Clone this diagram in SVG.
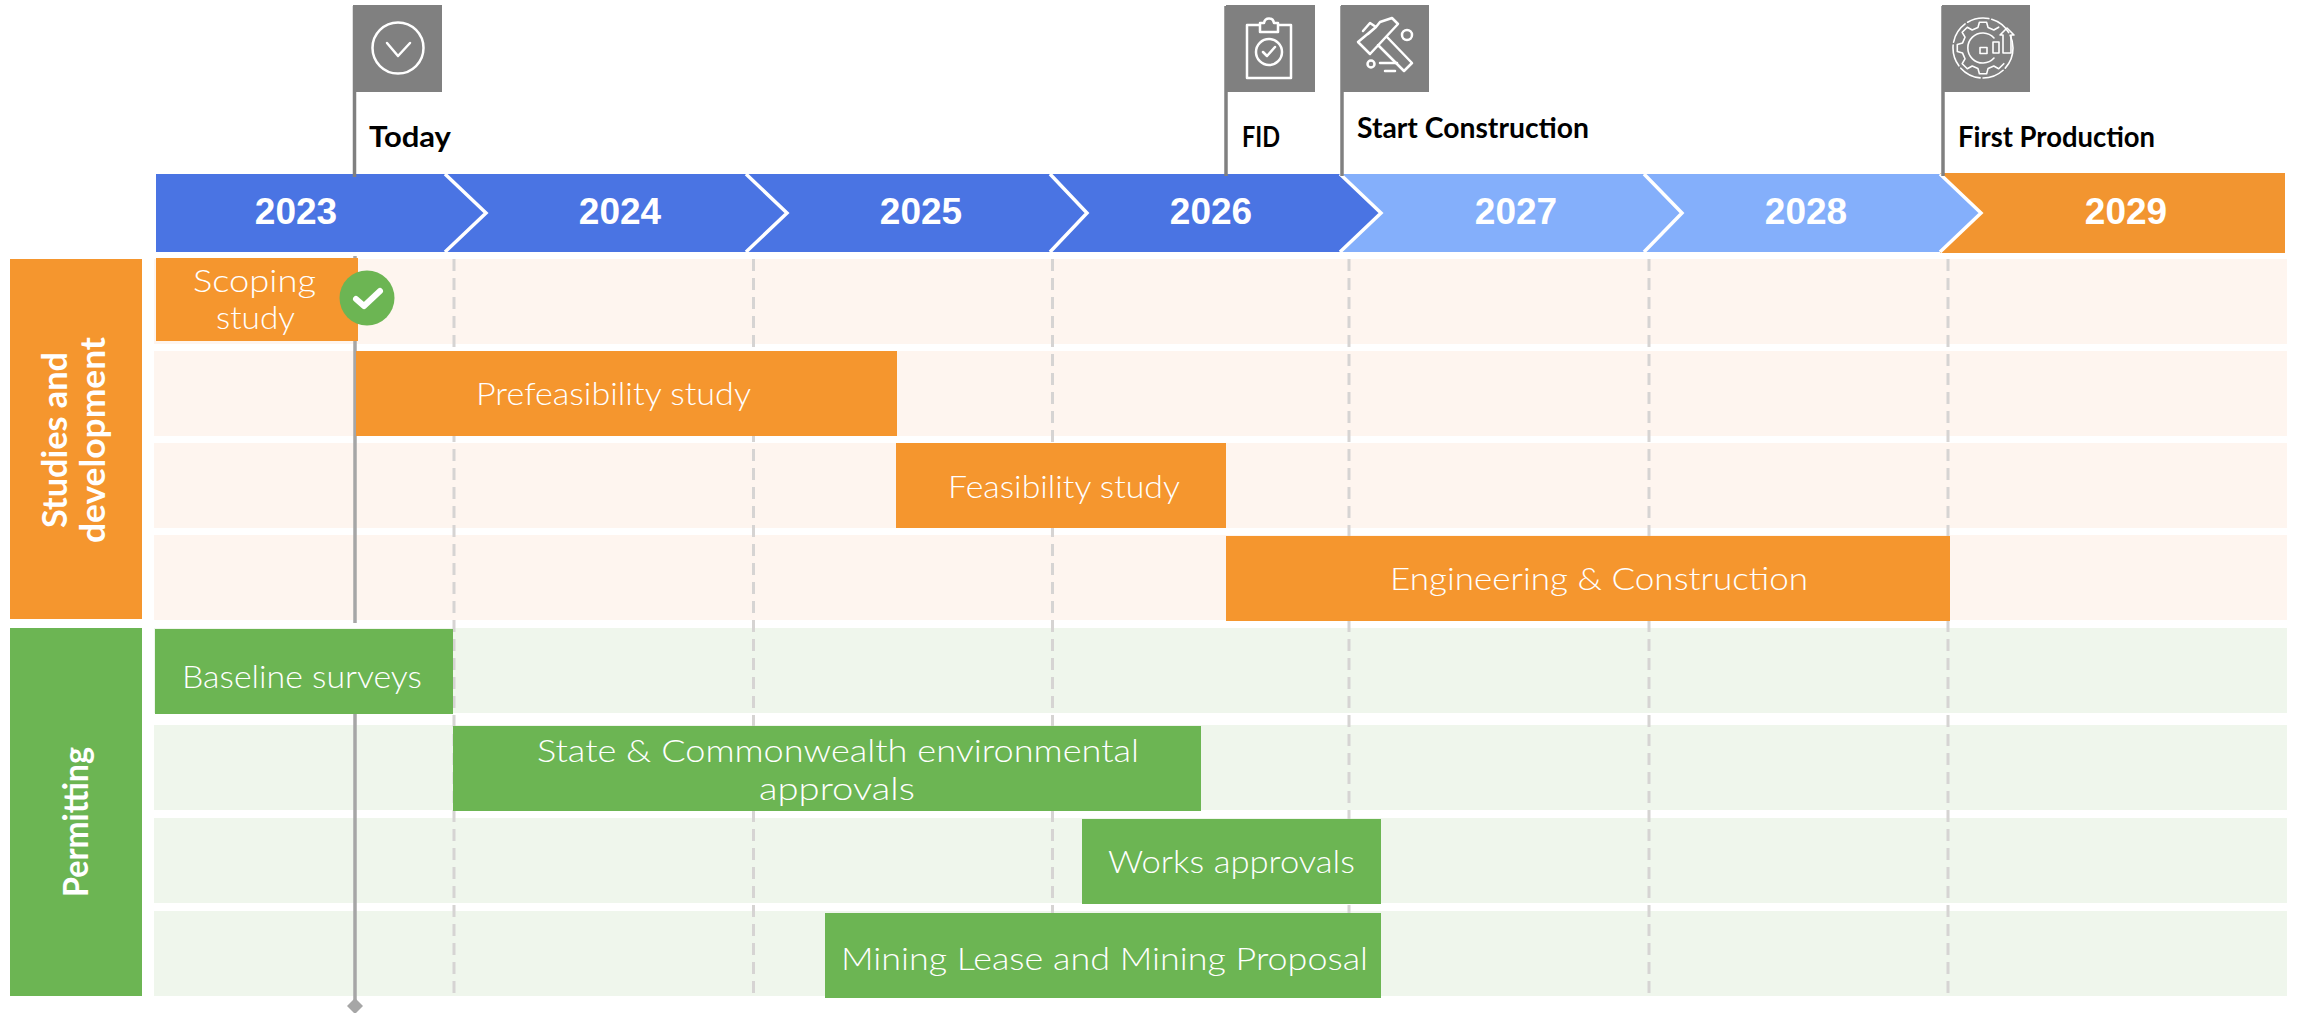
<svg xmlns="http://www.w3.org/2000/svg" width="2299" height="1013" viewBox="0 0 2299 1013">
<style>
.ro{fill:#FEF5EF}.rg{fill:#EFF6EC}
.o{fill:#F5962E}.g{fill:#6CB553}
.dash{stroke:#D6D4D3;stroke-width:3;stroke-dasharray:12 7;fill:none}
.tl{stroke:#A6A6A6;stroke-width:3.5;fill:none}
.pole{stroke:#808080;stroke-width:3.5;fill:none}
.flag{fill:#808080}
.ic{fill:none;stroke:#fff;stroke-width:2.5;stroke-linejoin:round;stroke-linecap:round}
.ic2{fill:none;stroke:#fff;stroke-width:1.6;stroke-linejoin:round;stroke-linecap:round}
.edge{fill:none;stroke:#fff;stroke-width:3.5}
.yr{font:bold 37px "Liberation Sans",Arial,sans-serif;fill:#fff;text-anchor:middle}
.ms{font:bold 28px Lato,"Liberation Sans",sans-serif;fill:#000}
.bar{font:300 32px Lato,"Open Sans",sans-serif;fill:#fff}
.side{font:bold 34px Lato,"Liberation Sans",sans-serif;fill:#fff}
</style>
<g id="rows">
<rect class="ro" x="154" y="259" width="2133" height="85"/>
<rect class="ro" x="154" y="351" width="2133" height="85"/>
<rect class="ro" x="154" y="443" width="2133" height="85"/>
<rect class="ro" x="154" y="535" width="2133" height="85"/>
<rect class="rg" x="154" y="628" width="2133" height="85"/>
<rect class="rg" x="154" y="725" width="2133" height="85"/>
<rect class="rg" x="154" y="818" width="2133" height="85"/>
<rect class="rg" x="154" y="911" width="2133" height="85"/>
</g>
<g id="connectors">
<path class="dash" d="M454 259V998M753.500 259V998M1052.500 259V998M1349 259V998M1649 259V998M1948 259V998"/>
<path class="tl" d="M355 256V623M355 714V1000"/>
<path d="M355 998l8 8-8 8-8-8z" fill="#A6A6A6"/>
</g>
<g id="timeline">
<rect x="1940" y="173" width="345" height="80" fill="#F29530"/>
<path fill="#84AFFB" d="M1640 174H1940L1981 213L1940 252H1640Z"/>
<path class="edge" d="M1940 174L1981 213L1940 252"/>
<path fill="#84AFFB" d="M1340 174H1644L1682 213L1644 252H1340Z"/>
<path class="edge" d="M1644 174L1682 213L1644 252"/>
<path fill="#4A74E3" d="M1050 174H1340L1381 213L1340 252H1050Z"/>
<path class="edge" d="M1340 174L1381 213L1340 252"/>
<path fill="#4A74E3" d="M746 174H1050L1087 213L1050 252H746Z"/>
<path class="edge" d="M1050 174L1087 213L1050 252"/>
<path fill="#4A74E3" d="M445 174H746L787 213L746 252H445Z"/>
<path class="edge" d="M746 174L787 213L746 252"/>
<path fill="#4A74E3" d="M156 174H445L486 213L445 252H156Z"/>
<path class="edge" d="M445 174L486 213L445 252"/>
<text class="yr" x="296" y="224">2023</text>
<text class="yr" x="620" y="224">2024</text>
<text class="yr" x="921" y="224">2025</text>
<text class="yr" x="1211" y="224">2026</text>
<text class="yr" x="1516" y="224">2027</text>
<text class="yr" x="1806" y="224">2028</text>
<text class="yr" x="2126" y="224">2029</text>
</g>
<g id="milestone-today">
<path class="pole" d="M354.500 6V177"/>
<rect class="flag" x="353" y="5" width="89" height="87"/>
<circle class="ic" cx="398" cy="48" r="25.500"/>
<path class="ic" stroke-width="3" d="M387 43L398 56L410 43"/>
<text class="ms" x="369" y="147" textLength="82" lengthAdjust="spacingAndGlyphs">Today</text>
</g>
<g id="milestone-fid">
<path class="pole" d="M1226 6V176"/>
<rect class="flag" x="1226" y="5" width="89" height="87"/>
<path class="ic" d="M1260 25H1247V78H1291V25H1278M1260 32V23H1264C1265 17 1273 17 1274 23H1278V32Z"/>
<circle class="ic" cx="1269" cy="52" r="13"/>
<path class="ic" d="M1263 52L1267 56L1275 47"/>
<text class="ms" x="1242" y="147" textLength="38" lengthAdjust="spacingAndGlyphs">FID</text>
</g>
<g id="milestone-start-construction">
<path class="pole" d="M1342 6V176"/>
<rect class="flag" x="1341" y="5" width="88" height="87"/>
<path class="ic" d="M1358 42L1370 54L1398 24L1392 18L1380 22L1376 27ZM1363 31L1370 23L1376 27L1368 34M1378 45L1404 71L1412 63L1387 37"/>
<circle class="ic" cx="1407" cy="35" r="5"/>
<circle class="ic" cx="1371" cy="64" r="3.500"/>
<path class="ic" d="M1380 63H1397M1385 71H1395"/>
<text class="ms" x="1357" y="138" textLength="232" lengthAdjust="spacingAndGlyphs">Start Construction</text>
</g>
<g id="milestone-first-production">
<path class="pole" d="M1943 6V176" stroke="#A6A6A6"/>
<rect class="flag" x="1942" y="5" width="88" height="87"/>
<circle class="ic2" cx="1983" cy="48" r="30" stroke-dasharray="22 3"/>
<path class="ic2" d="M2003.800 63.700L1998.700 68.800L1993.800 66L1988.100 68.400L1986.600 73.700L1979.400 73.700L1977.900 68.400L1972.200 66L1967.300 68.800L1962.200 63.700L1965 58.800L1962.600 53.100L1957.300 51.600L1957.300 44.400L1962.600 42.900L1965 37.200L1962.200 32.300L1967.300 27.200L1972.200 30L1977.900 27.600L1979.400 22.300L1986.600 22.300L1988.100 27.600L1993.800 30L1998.700 27.200"/>
<path class="ic2" d="M1994 38A15 15 0 1 0 1994 58"/>
<rect class="ic2" x="1980" y="47.500" width="7" height="6"/>
<rect class="ic2" x="1993" y="42" width="6" height="11"/>
<path class="ic2" d="M2003 53V35H2000L2007 28L2014 35H2011V53Z"/>
<text class="ms" x="1958" y="147" textLength="197" lengthAdjust="spacingAndGlyphs">First Production</text>
</g>
<g id="lane-studies">
<rect class="o" x="10" y="259" width="132" height="360"/>
<text class="side" transform="translate(67 528) rotate(-90)" textLength="176" lengthAdjust="spacingAndGlyphs">Studies and</text>
<text class="side" transform="translate(105 543) rotate(-90)" textLength="206" lengthAdjust="spacingAndGlyphs">development</text>
</g>
<g id="lane-permitting">
<rect class="g" x="10" y="628" width="132" height="368"/>
<text class="side" transform="translate(88 897) rotate(-90)" textLength="150" lengthAdjust="spacingAndGlyphs">Permitting</text>
</g>
<g id="scoping-study">
<rect class="o" x="156" y="258" width="202" height="83"/>
<text class="bar" x="193" y="292" textLength="123" lengthAdjust="spacingAndGlyphs">Scoping</text>
<text class="bar" x="216" y="329" textLength="79" lengthAdjust="spacingAndGlyphs">study</text>
</g>
<g id="scoping-check">
<circle cx="367" cy="298" r="27.500" fill="#6CB553"/>
<path d="M356 299L364 306L380 291" fill="none" stroke="#fff" stroke-width="6" stroke-linecap="round" stroke-linejoin="round"/>
</g>
<g id="prefeasibility-study">
<rect class="o" x="356" y="351" width="541" height="85"/>
<text class="bar" x="476" y="405" textLength="275" lengthAdjust="spacingAndGlyphs">Prefeasibility study</text>
</g>
<g id="feasibility-study">
<rect class="o" x="896" y="443" width="330" height="85"/>
<text class="bar" x="948" y="498" textLength="232" lengthAdjust="spacingAndGlyphs">Feasibility study</text>
</g>
<g id="engineering-construction">
<rect class="o" x="1226" y="536" width="724" height="85"/>
<text class="bar" x="1390" y="590" textLength="418" lengthAdjust="spacingAndGlyphs">Engineering &amp; Construction</text>
</g>
<g id="baseline-surveys">
<rect class="g" x="155" y="629" width="298" height="85"/>
<text class="bar" x="182" y="688" textLength="240" lengthAdjust="spacingAndGlyphs">Baseline surveys</text>
</g>
<g id="state-approvals">
<rect class="g" x="453" y="726" width="748" height="85"/>
<text class="bar" x="537" y="762" textLength="602" lengthAdjust="spacingAndGlyphs">State &amp; Commonwealth environmental</text>
<text class="bar" x="759" y="800" textLength="156" lengthAdjust="spacingAndGlyphs">approvals</text>
</g>
<g id="works-approvals">
<rect class="g" x="1082" y="819" width="299" height="85"/>
<text class="bar" x="1108" y="873" textLength="247" lengthAdjust="spacingAndGlyphs">Works approvals</text>
</g>
<g id="mining-lease">
<rect class="g" x="825" y="913" width="556" height="85"/>
<text class="bar" x="841" y="970" textLength="527" lengthAdjust="spacingAndGlyphs">Mining Lease and Mining Proposal</text>
</g>
</svg>
